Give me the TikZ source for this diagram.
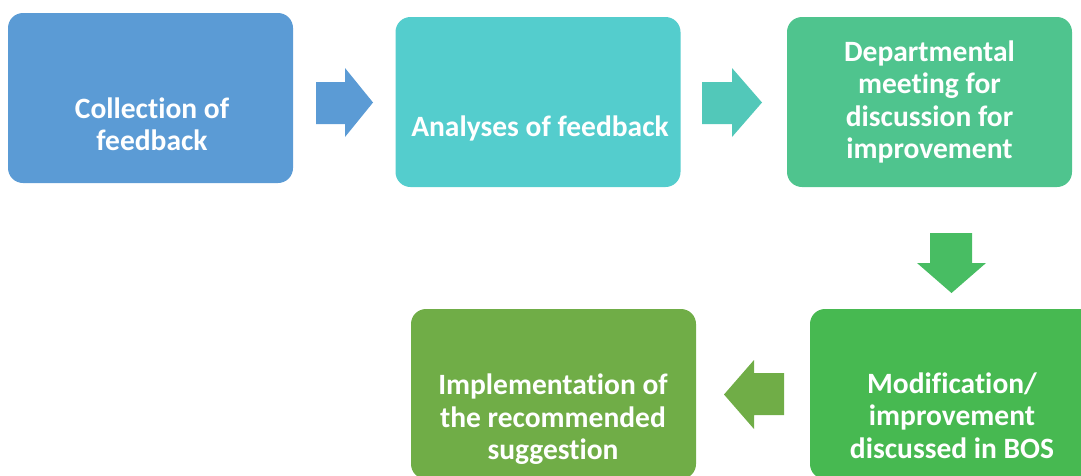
\documentclass[tikz,border=0pt]{standalone}
\usepackage{fontspec}
\setmainfont{Carlito}[Ligatures=NoCommon]
\definecolor{cA}{HTML}{5B9BD5}
\definecolor{cB}{HTML}{54CDCD}
\definecolor{cBa}{HTML}{52C8B9}
\definecolor{cC}{HTML}{4FC48E}
\definecolor{cCa}{HTML}{48BD63}
\definecolor{cE}{HTML}{47B951}
\definecolor{cD}{HTML}{70AD47}
\begin{document}
\begin{tikzpicture}[x=1pt,y=-1pt,
  box/.style={rounded corners=15pt, minimum width=285pt, minimum height=170pt, inner sep=0pt, draw=none},
  lbl/.style={text=white, align=center, inner sep=0pt, font=\fontsize{29.5}{32.5}\selectfont\bfseries}]
\useasboundingbox (0,0) rectangle (1081,475);
\clip (0,0) rectangle (1081,475);
% boxes
\node (b1) [box, fill=cA] at (150.5,98) {};
\node (b2) [box, fill=cB] at (538,102) {};
\node (b3) [box, fill=cC] at (929.5,102) {};
\node (b5) [box, fill=cE] at (952.5,394) {};
\node (b4) [box, fill=cD] at (553.5,394) {};
% labels
\node (t1) [lbl] at (152,124.5) {Collection of\\feedback};
\node (t2) [lbl] at (540,128) {Analyses of feedback};
\node (t3) [lbl] at (929.5,102) {Departmental\\meeting for\\discussion for\\improvement};
\node (t5) [lbl] at (952,415.5) {Modification/\\improvement\\discussed in BOS};
\node (t4) [lbl] at (553,419.5) {Implementation of\\the recommended\\suggestion};
% block arrows
\fill[cA] (316,82) -- (345,82) -- (345,68) -- (373,102.5) -- (345,137) -- (345,124) -- (316,124) -- cycle;
\fill[cBa] (702,82) -- (732,82) -- (732,68) -- (762,102.5) -- (732,137) -- (732,124) -- (702,124) -- cycle;
\fill[cCa] (930,233) -- (972,233) -- (972,263) -- (986,263) -- (951.5,293) -- (917,263) -- (930,263) -- cycle;
\fill[cD] (784,373) -- (754,373) -- (754,360) -- (724,394.5) -- (754,429) -- (754,415) -- (784,415) -- cycle;
\end{tikzpicture}
\end{document}
